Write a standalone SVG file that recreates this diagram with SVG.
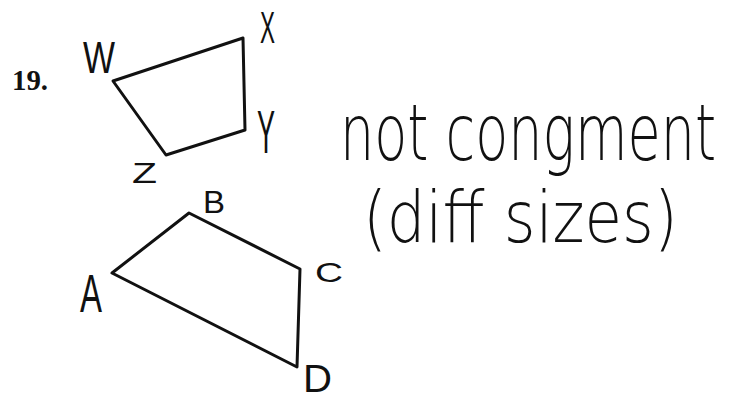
<svg xmlns="http://www.w3.org/2000/svg" width="738" height="399" viewBox="0 0 738 399">
<style>
.shape{fill:none;stroke:#111;stroke-width:3;stroke-linejoin:round}
.lbl{font-family:"Liberation Sans",Arial,sans-serif;fill:#111}
.hand{font-family:"DejaVu Sans","Liberation Sans",sans-serif;font-weight:200;fill:#111}
.num{font-family:"Liberation Serif","Times New Roman",serif;font-weight:bold;fill:#111}
</style>
<rect width="738" height="399" fill="#fff"/>
<text class="num" x="12" y="90" font-size="30" textLength="36" lengthAdjust="spacingAndGlyphs">19.</text>
<g id="wxyz">
<polygon class="shape" points="113,81 243,38 245,130 166,155"/>
<text class="lbl" x="83" y="73" font-size="44" textLength="32" lengthAdjust="spacingAndGlyphs">W</text>
<text class="lbl" x="260" y="43" font-size="44" textLength="15" lengthAdjust="spacingAndGlyphs">X</text>
<text class="lbl" x="257" y="153" font-size="62" textLength="18" lengthAdjust="spacingAndGlyphs">Y</text>
<text class="lbl" x="132" y="183" font-size="30" textLength="25" lengthAdjust="spacingAndGlyphs">Z</text>
</g>
<g id="abcd">
<polygon class="shape" points="112,273 189,213 300,269 297,367"/>
<text class="lbl" x="203" y="213" font-size="32" textLength="22" lengthAdjust="spacingAndGlyphs">B</text>
<text class="lbl" x="315" y="282" font-size="28" textLength="28" lengthAdjust="spacingAndGlyphs">C</text>
<text class="lbl" x="80" y="312" font-size="54" textLength="22" lengthAdjust="spacingAndGlyphs">A</text>
<text class="lbl" x="303" y="392" font-size="38" textLength="29" lengthAdjust="spacingAndGlyphs">D</text>
</g>
<g id="note">
<text class="hand" transform="translate(340,160) scale(1,1.44)" x="0" y="0" font-size="54">not congment</text>
<text class="hand" transform="translate(363,242) scale(1,1.18)" x="0" y="0" font-size="61">(diff sizes)</text>
</g>
</svg>
